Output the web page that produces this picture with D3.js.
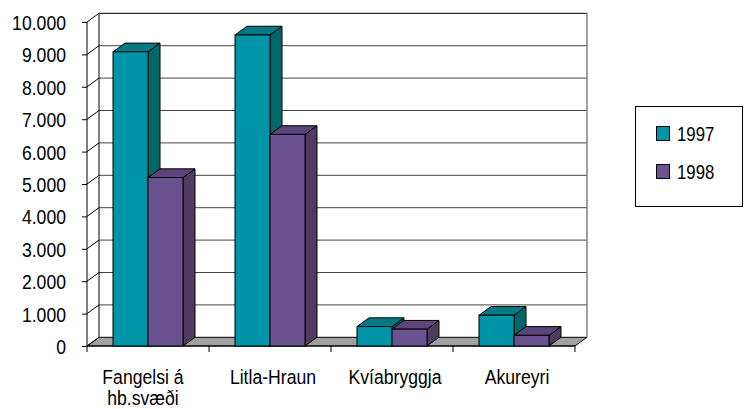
<!DOCTYPE html>
<html>
<head>
<meta charset="utf-8">
<script src="https://cdn.jsdelivr.net/npm/d3@7"></script>
<style>
  html, body { margin: 0; padding: 0; background: #fff; }
  svg { display: block; }
  text { font-family: "Liberation Sans", Arial, sans-serif; fill: #000; }
</style>
</head>
<body>
<svg id="chart" width="744" height="409"></svg>
<script>
// ---- data ----
const categories = ["Fangelsi á\nhb.svæði", "Litla-Hraun", "Kvíabryggja", "Akureyri"];
const seriesNames = ["1997", "1998"];
const values1997 = [9080, 9600, 600, 950];
const values1998 = [5200, 6530, 520, 330];
const yTicks = [0, 1000, 2000, 3000, 4000, 5000, 6000, 7000, 8000, 9000, 10000];

// ---- styles ----
const frontColors = ["#0094A8", "#6A5290"];
const topColors   = ["#007B85", "#5B4579"];
const sideColors  = ["#006868", "#4F3B62"];
const SX = 0.84; // horizontal squeeze to mimic a narrow face

const svg = d3.select("#chart");
const locale = d3.formatLocale({ decimal: ",", thousands: ".", grouping: [3], currency: ["", ""] });
const fmt = locale.format(",d");

// geometry
const left = 87, right = 575, base = 346, topY = 22;
const dx = 12, dy = -8.7;

const y = d3.scaleLinear().domain([0, 10000]).range([base, topY]);
const x = d3.scaleBand().domain(categories).range([left, right]).padding(0);
const xs = d3.scaleBand().domain(seriesNames).range([0, x.bandwidth()]).paddingInner(0).paddingOuter(0.743);

const seriesValues = [values1997, values1998];

// back wall
svg.append("rect")
  .attr("x", left + dx).attr("y", y(10000) + dy)
  .attr("width", right - left).attr("height", base - y(10000))
  .attr("fill", "#fff");

// floor
const floorPts = [[left, base], [right, base], [right + dx, base + dy], [left + dx, base + dy]];
svg.append("polygon")
  .attr("points", floorPts.map(p => p.join(",")).join(" "))
  .attr("fill", "#A0A0A0").attr("stroke", "#000").attr("stroke-width", 1);

// gridlines on back wall and side wall
const grid = svg.append("g");
yTicks.forEach(v => {
  const yy = y(v);
  if (v > 0) {
    grid.append("line")
      .attr("x1", left + dx).attr("x2", right + dx)
      .attr("y1", yy + dy).attr("y2", yy + dy)
      .attr("stroke", v === 10000 ? "#000" : "#444").attr("stroke-width", 1);
  }
  grid.append("line")
    .attr("x1", left).attr("y1", yy)
    .attr("x2", left + dx).attr("y2", yy + dy)
    .attr("stroke", "#000").attr("stroke-width", 1);
});
svg.append("line")
  .attr("x1", left + dx).attr("x2", left + dx)
  .attr("y1", y(10000) + dy).attr("y2", base + dy)
  .attr("stroke", "#000");
svg.append("line")
  .attr("x1", right + dx).attr("x2", right + dx)
  .attr("y1", y(10000) + dy).attr("y2", base + dy)
  .attr("stroke", "#808080").attr("stroke-width", 1.5);

// y axis (front)
const yAxis = d3.axisLeft(y).tickValues(yTicks).tickSize(5).tickFormat(fmt);
const gy = svg.append("g").attr("transform", `translate(${left},0)`).call(yAxis);
gy.select(".domain").attr("stroke", "#000").attr("d", `M0,${base}V${topY}`);
gy.selectAll(".tick line").attr("stroke", "#000");
gy.selectAll(".tick text")
  .attr("x", -21 / SX).attr("dy", "0.36em")
  .attr("transform", `scale(${SX},1)`)
  .style("font-family", '"Liberation Sans", Arial, sans-serif')
  .style("font-size", "21px").attr("fill", "#000");

// x axis (front)
const xAxis = d3.axisBottom(x).tickSize(0).tickFormat("");
const gx = svg.append("g").attr("transform", `translate(0,${base})`).call(xAxis);
gx.select(".domain").attr("stroke", "#000").attr("d", `M${left},0H${right}`);
const boundaries = categories.map(c => x(c)).concat([right]);
gx.selectAll(".bnd").data(boundaries).enter().append("line")
  .attr("x1", d => d).attr("x2", d => d).attr("y1", 0).attr("y2", 6)
  .attr("stroke", "#000");

// bars
const bars = svg.append("g");
categories.forEach((c, ci) => {
  seriesNames.forEach((s, si) => {
    const v = seriesValues[si][ci];
    const x0 = x(c) + xs(s), x1 = x0 + xs.bandwidth();
    const yt = y(v);
    bars.append("polygon")
      .attr("points", [[x1, yt], [x1 + dx, yt + dy], [x1 + dx, base + dy], [x1, base]].map(p => p.join(",")).join(" "))
      .attr("fill", sideColors[si]).attr("stroke", "#000").attr("stroke-width", 1).attr("stroke-linejoin", "round");
    bars.append("polygon")
      .attr("points", [[x0, yt], [x1, yt], [x1 + dx, yt + dy], [x0 + dx, yt + dy]].map(p => p.join(",")).join(" "))
      .attr("fill", topColors[si]).attr("stroke", "#000").attr("stroke-width", 1).attr("stroke-linejoin", "round");
    bars.append("rect")
      .attr("x", x0).attr("y", yt).attr("width", x1 - x0).attr("height", base - yt)
      .attr("fill", frontColors[si]).attr("stroke", "#000").attr("stroke-width", 1);
  });
});

// category labels
categories.forEach(c => {
  const lines = c.split("\n");
  const cx = x(c) + x.bandwidth() / 2 + (lines.length > 1 ? -5 : 3);
  lines.forEach((ln, i) => {
    svg.append("text")
      .attr("text-anchor", "middle")
      .attr("transform", `translate(${cx},${384 + i * 21}) scale(${SX},1)`)
      .style("font-size", "21px")
      .text(ln);
  });
});

// legend
const lg = svg.append("g");
lg.append("rect").attr("x", 635.5).attr("y", 106.5).attr("width", 107).attr("height", 100)
  .attr("fill", "#fff").attr("stroke", "#000").attr("stroke-width", 1);
seriesNames.forEach((s, i) => {
  const yy = 126 + i * 38;
  lg.append("rect").attr("x", 656.5).attr("y", yy + 0.5).attr("width", 13).attr("height", 14)
    .attr("fill", frontColors[i]).attr("stroke", "#000").attr("stroke-width", 1);
  lg.append("text")
    .attr("transform", `translate(677,${yy + 15}) scale(${SX},1)`)
    .style("font-size", "20px").text(s);
});
</script>
</body>
</html>
